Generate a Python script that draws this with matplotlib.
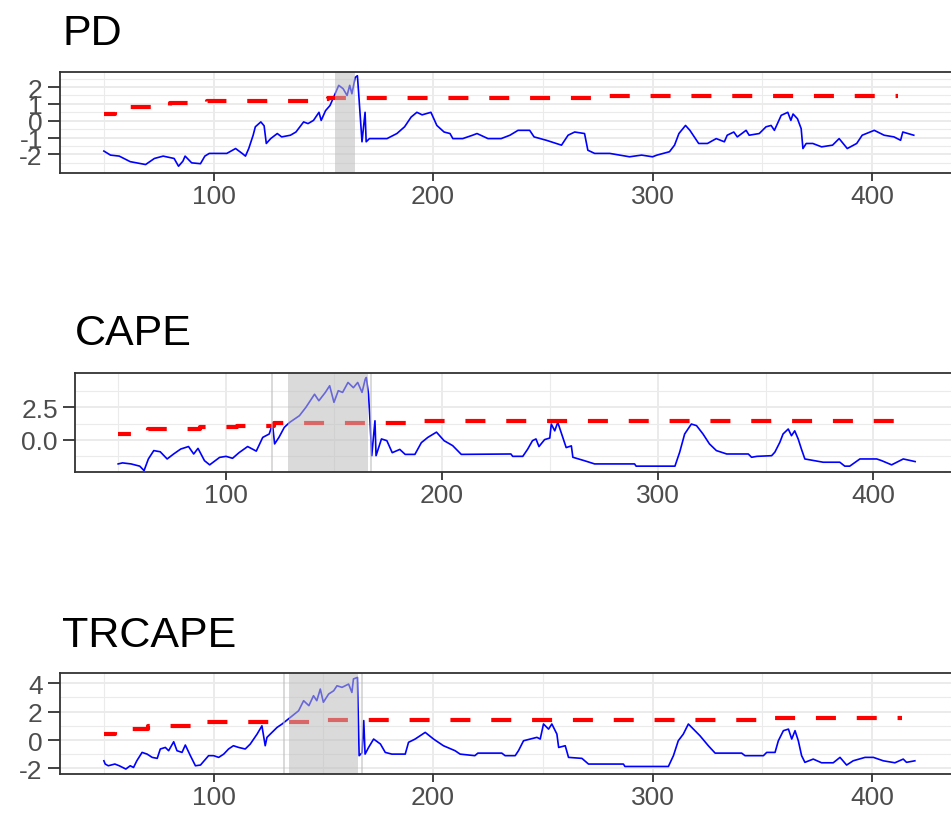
import matplotlib

matplotlib.use('agg')
import matplotlib.pyplot as plt

plt.rcParams['font.family'] = ['Liberation Sans', 'DejaVu Sans']

# ---- PD: test statistic (blue) and critical value (red) ----
pd_x = [50, 53, 57, 62, 69, 73, 77, 82, 84, 86,
        87, 90, 94, 96, 98, 106, 110, 113, 114.5, 116,
        118, 119, 121.5, 123, 124, 126, 129, 131, 135, 137.5,
        141, 143, 145.5, 148, 149, 151, 153, 155, 157, 159,
        160.8, 162, 163, 164.5, 165.5, 166, 167.6, 169, 169.5, 171,
        174, 179, 183.5, 187, 190, 192.6, 195, 199, 201.7, 205,
        207.7, 209, 213.5, 218, 220, 225, 231, 235, 238.7, 244,
        246, 251.6, 258.5, 261.5, 264.5, 269, 270.5, 273.6, 280.5, 289.5,
        295, 300, 302, 307.7, 310, 312, 315, 317, 321, 325,
        329, 332.7, 334, 337, 338.6, 342.6, 344, 348.6, 351.7, 354,
        355.5, 358.6, 361.6, 363, 364, 366, 367.7, 368.5, 370, 373,
        377, 382, 385, 388.7, 393, 395.5, 401, 405.5, 410, 413,
        414, 419]
pd_y = [-1.8, -2.04, -2.1, -2.43, -2.6, -2.24, -2.1, -2.24, -2.7, -2.4,
        -2.1, -2.5, -2.55, -2.1, -1.94, -1.94, -1.65, -1.94, -2.1, -1.65,
        -0.86, -0.36, -0.07, -0.3, -1.35, -1.06, -0.76, -0.96, -0.86, -0.67,
        -0.07, -0.17, 0.02, 0.5, 0.02, 0.6, 0.9, 1.49, 2.1, 1.9,
        1.5, 2.1, 1.6, 2.57, 2.67, 1.78, -1.25, 0.5, -1.25, -1.06,
        -1.06, -1.06, -0.76, -0.36, 0.22, 0.5, 0.35, 0.5, -0.28, -0.67,
        -0.76, -1.06, -1.06, -0.86, -0.76, -1.06, -1.06, -0.86, -0.57, -0.57,
        -0.96, -1.16, -1.45, -0.86, -0.67, -0.76, -1.75, -1.94, -1.94, -2.14,
        -2.04, -2.14, -2.04, -1.84, -1.45, -0.76, -0.28, -0.57, -1.35, -1.35,
        -1.06, -1.25, -0.86, -0.67, -0.96, -0.57, -0.86, -0.76, -0.36, -0.28,
        -0.57, 0.32, 0.5, 0.02, 0.4, 0.12, -0.47, -1.65, -1.35, -1.35,
        -1.55, -1.45, -1.06, -1.65, -1.35, -0.86, -0.57, -0.86, -0.96, -1.16,
        -0.67, -0.86]
pd_cv_x = [50, 55, 62, 80, 97, 120, 148, 152, 279, 412]
pd_cv_y = [0.41, 0.59, 0.84, 1.04, 1.16, 1.20, 1.28, 1.33, 1.49, 1.49]
pd_spans = [(155.4, 164.5)]

# ---- CAPE ----
cape_x = [50, 52, 56, 60, 62, 64, 66.5, 69.5, 72.7, 75.7,
          79, 82.6, 85, 87, 90, 92.4, 97, 100, 103, 106,
          110, 114, 117, 120, 121.5, 122.5, 124.5, 127, 129.5, 134,
          137, 141, 143, 146, 148, 150, 152, 154, 156.5, 159,
          161, 163, 164.5, 165, 166, 166.5, 167.5, 169, 169.5, 172,
          174.5, 177, 180.5, 183, 187.5, 190.5, 193.5, 197.5, 201, 205,
          209, 232, 232.8, 237.5, 239.8, 242, 243.6, 245, 247.6, 250,
          250.7, 252.3, 253.7, 255.3, 257.6, 260, 260.7, 266, 270.8, 289.3,
          290, 308, 310.2, 312.5, 315.6, 318, 321, 324, 327.2, 332,
          342, 343.5, 346, 352.8, 354.3, 356.6, 358.1, 360.5, 362, 363.5,
          365.1, 366.6, 368.2, 376.7, 384.4, 386.7, 389, 393.7, 401.5, 403.8,
          408.4, 413.8, 419.3]
cape_y = [-1.83, -1.75, -1.83, -2.0, -2.34, -1.45, -0.81, -0.9, -1.45, -1.07,
          -0.69, -0.5, -1.07, -0.64, -1.58, -1.9, -1.33, -1.25, -1.4, -0.97,
          -0.5, -0.85, 0.2, 0.46, 1.22, -0.3, 0.2, 0.97, 1.35, 1.86,
          2.5, 3.5, 3.0, 3.64, 4.15, 2.88, 3.77, 3.64, 4.4, 4.0,
          4.4, 3.64, 4.66, 4.78, 3.5, 2.1, -1.2, 1.47, -1.2, 0.08,
          -0.05, -0.97, -0.72, -1.1, -1.1, -0.2, 0.2, 0.6, -0.05, -0.43,
          -1.1, -1.07, -1.25, -1.25, -0.69, -0.05, 0.08, -0.5, 0.03, 0.15,
          1.22, 0.7, 1.35, 0.56, -0.58, -0.45, -1.32, -1.58, -1.83, -1.83,
          -2.0, -2.0, -0.93, 0.46, 1.22, 1.1, 0.46, -0.3, -0.81, -1.07,
          -1.07, -1.32, -1.25, -1.2, -0.93, -0.18, 0.46, 0.84, 0.33, 0.7,
          0.08, -0.69, -1.45, -1.7, -1.7, -2.0, -2.0, -1.45, -1.45, -1.58,
          -1.9, -1.45, -1.65]
cape_cv_x = [50, 56, 64, 88, 105, 122, 185, 419]
cape_cv_y = [0.46, 0.70, 0.84, 1.02, 1.10, 1.33, 1.47, 1.47]
cape_spans = [(120.8, 121.8), (128.5, 165.6), (166.6, 167.6)]

# ---- TRCAPE ----
tr_x = [50, 50.6, 52, 55, 57, 60, 62, 63.5, 65, 67.4,
        69.7, 72, 74.3, 75.7, 78, 79.5, 81.8, 83.3, 85.6, 87.1,
        89.4, 91.7, 94, 97.7, 100, 102.3, 104.6, 106.8, 109, 111.4,
        114.4, 116.7, 119.8, 122, 123.5, 124.3, 126.6, 128.9, 131.2, 135,
        138.7, 141, 143.4, 145.5, 147, 148.6, 150, 152.4, 154.7, 156.2,
        158.5, 161.5, 163, 163.7, 165.5, 166.3, 167.6, 168.4, 169, 170.6,
        172.9, 176, 178.2, 181.2, 187.3, 188.8, 191.8, 196.4, 200.2, 204.7,
        210, 212.3, 219, 220.4, 231.3, 232.8, 237.4, 238.9, 241.2, 244.3,
        247.3, 248.8, 250.3, 252.6, 254.1, 256.4, 257.2, 260.2, 261.7, 267.8,
        270.8, 286.7, 287.4, 307.2, 309.5, 311.7, 314, 316.3, 318.6, 321.6,
        325.4, 328.5, 340.6, 342.1, 350.5, 352, 355.8, 357.3, 359.6, 361.9,
        363.4, 364.9, 366.4, 367.9, 369.4, 373.2, 377, 382.3, 385.4, 388.4,
        391.4, 396.8, 400.6, 405.1, 410.4, 414.2, 415.7, 419.5]
tr_y = [-1.46, -1.69, -1.81, -1.69, -1.81, -2.04, -1.81, -1.93, -1.46, -0.87,
        -0.99, -1.22, -1.29, -0.63, -0.52, -0.75, -0.12, -0.75, -0.87, -0.35,
        -1.1, -1.81, -1.76, -1.1, -1.1, -1.22, -0.99, -0.63, -0.4, -0.52,
        -0.63, -0.28, 0.42, 1.0, -0.4, 0.19, 0.54, 0.89, 1.13, 1.6,
        2.06, 2.77, 2.42, 3.12, 2.77, 3.59, 2.66, 3.24, 3.47, 3.82,
        3.71, 3.94, 3.35, 4.3, 4.41, -1.1, -0.9, 1.37, -0.99, -0.52,
        0.07, -0.28, -0.87, -0.99, -0.99, -0.16, 0.07, 0.54, 0.07, -0.4,
        -0.75, -0.99, -1.1, -0.92, -0.92, -1.1, -1.1, -0.75, -0.05, 0.07,
        0.19, 0.07, 1.13, 0.77, 1.13, 0.42, -0.52, -0.4, -1.22, -1.29,
        -1.69, -1.69, -1.86, -1.86, -1.1, -0.05, 0.42, 1.13, 0.77, 0.3,
        -0.4, -0.92, -0.92, -1.1, -1.1, -0.87, -0.87, -0.05, 0.66, 0.77,
        0.07, 0.66, -0.05, -1.1, -1.57, -1.34, -1.6, -1.6, -1.22, -1.76,
        -1.46, -1.22, -1.22, -1.46, -1.6, -1.34, -1.57, -1.46]
tr_cv_x = [50, 55, 63, 70, 97, 146, 348, 413.5]
tr_cv_y = [0.42, 0.54, 0.77, 1.00, 1.25, 1.41, 1.53, 1.53]
tr_spans = [(131.5, 132.6), (134.2, 166.0), (167.2, 168.2)]

x_major = [100, 200, 300, 400]
x_minor = [50, 150, 250, 350]

W, H = 951, 829
fig = plt.figure(figsize=(W / 100, H / 100), dpi=100)

panels = [
    dict(title='PD', x=pd_x, y=pd_y, cvx=pd_cv_x, cvy=pd_cv_y, spans=pd_spans,
         ylim=(-3.12, 2.91), yticks=[-2, -1, 0, 1, 2], ylabels=['-2', '-1', '0', '1', '2'],
         yminor=[-2.5, -1.5, -0.5, 0.5, 1.5, 2.5],
         box=(60, 72.7, 174.3), tpos=(62, 45)),
    dict(title='CAPE', x=cape_x, y=cape_y, cvx=cape_cv_x, cvy=cape_cv_y, spans=cape_spans,
         ylim=(-2.47, 5.1), yticks=[0, 2.5], ylabels=['0.0', '2.5'],
         yminor=[-1.25, 1.25, 3.75],
         box=(75, 374.3, 473.3), tpos=(75, 345)),
    dict(title='TRCAPE', x=tr_x, y=tr_y, cvx=tr_cv_x, cvy=tr_cv_y, spans=tr_spans,
         ylim=(-2.39, 4.72), yticks=[-2, 0, 2, 4], ylabels=['-2', '0', '2', '4'],
         yminor=[-1, 1, 3],
         box=(60, 674, 775), tpos=(62, 647)),
]

for p in panels:
    left, top, bottom = p['box']
    right = 957
    ax = fig.add_axes([left / W, 1 - bottom / H, (right - left) / W, (bottom - top) / H])

    ax.plot(p['x'], p['y'], color='#0000FF', lw=1.2, zorder=2)
    ax.plot(p['cvx'], p['cvy'], color='#FF0000', lw=3, drawstyle='steps-post',
            linestyle=(1.7, (4.8, 5.0)), dash_capstyle='butt', zorder=2)
    for a, b in p['spans']:
        ax.axvspan(a, b, color='#bdbdbd', alpha=0.55, lw=0, zorder=3)

    ax.set_xlim(30.0, 438.7)
    ax.set_ylim(*p['ylim'])
    ax.set_xticks(x_major)
    ax.set_xticks(x_minor, minor=True)
    ax.set_yticks(p['yticks'])
    ax.set_yticklabels(p['ylabels'])
    ax.set_yticks(p['yminor'], minor=True)
    ax.set_axisbelow(True)
    ax.grid(which='major', color='#EBEBEB', lw=1.4)
    ax.grid(which='minor', color='#EBEBEB', lw=0.8)
    ax.tick_params(which='minor', length=0)
    ax.tick_params(axis='x', which='major', length=6, width=1.3, color='#333333',
                   labelsize=19, labelcolor='#4D4D4D', pad=2)
    ax.tick_params(axis='y', which='major', length=8.4, width=1.3, color='#333333',
                   labelsize=19, labelcolor='#4D4D4D', pad=4)
    for s in ax.spines.values():
        s.set_color('#333333')
        s.set_linewidth(1.3)
        s.set_zorder(4)

    tx, ty = p['tpos']
    fig.text(tx / W, 1 - ty / H, p['title'], fontsize=31, ha='left', va='baseline', color='black')

fig.savefig('out.png', dpi=100)
